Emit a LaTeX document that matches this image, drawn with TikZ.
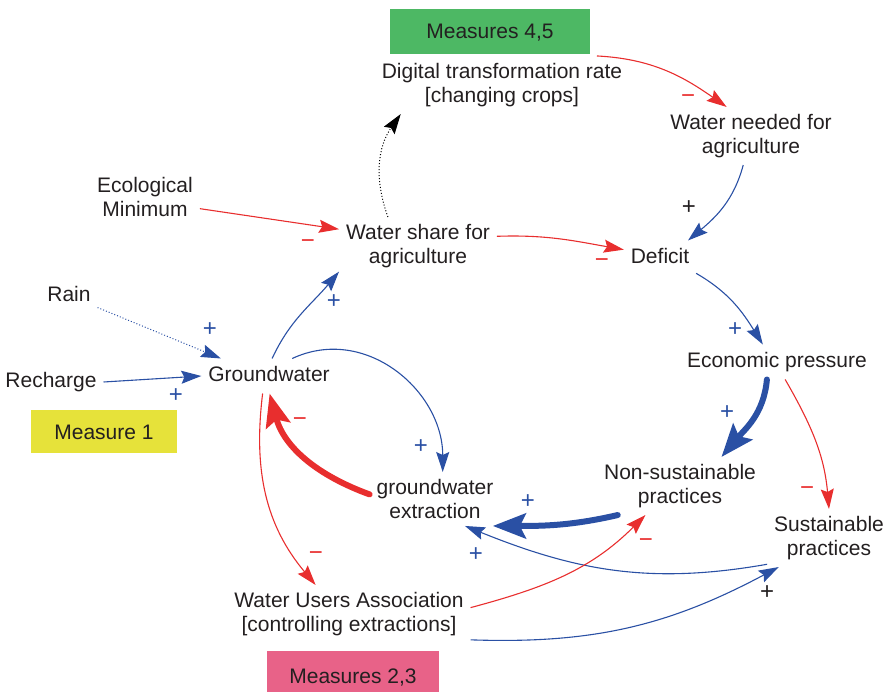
\documentclass[tikz,border=0pt]{standalone}
\usepackage{fontspec}
\setmainfont{Liberation Sans}
\usetikzlibrary{arrows.meta}

\definecolor{lred}{RGB}{232,46,46}
\definecolor{lblue}{RGB}{42,80,164}
\definecolor{txt}{RGB}{35,31,32}
\definecolor{mgreen}{RGB}{77,184,100}
\definecolor{myellow}{RGB}{230,226,58}
\definecolor{mpink}{RGB}{232,98,136}

\begin{document}
\begin{tikzpicture}[x=1pt, y=-1pt,
        var/.style={font=\fontsize{21}{24.5}\selectfont, text=txt, align=center, inner sep=3pt, outer sep=4pt},
        one/.style={var, text height=16pt, text depth=5pt},
        measure/.style={font=\fontsize{21}{24.5}\selectfont, text=txt, inner sep=0pt, text height=15pt, text depth=0pt},
        sgnred/.style={font=\fontsize{24}{24}\selectfont, text=lred, inner sep=0pt},
        sgnblue/.style={font=\fontsize{24}{24}\selectfont, text=lblue, inner sep=0pt},
        sgnblack/.style={font=\fontsize{24}{24}\selectfont, text=txt, inner sep=0pt},
        redlink/.style={draw=lred, line width=1.1pt, -{Stealth[length=20pt,width=13pt,inset=3pt]}},
        bluelink/.style={draw=lblue, line width=1.1pt, -{Stealth[length=20pt,width=13pt,inset=3pt]}},
        thickred/.style={draw=lred, line width=6pt, line cap=round, -{Stealth[length=33pt,width=25pt,inset=6pt]}},
        thickblue/.style={draw=lblue, line width=6pt, line cap=round, -{Stealth[length=33pt,width=25pt,inset=6pt]}},
        dotlink/.style={line width=1pt, dotted, -{Stealth[length=20pt,width=13pt,inset=3pt]}}
    ]
        \useasboundingbox (0,0) rectangle (889,692);
        % measure boxes
        \node[measure, fill=mgreen, minimum width=200pt, minimum height=45pt] (m45) at (490,31.5) {Measures 4,5};
        \node[measure, fill=myellow, minimum width=146pt, minimum height=43pt] (m1) at (104,431.5) {Measure 1};
        \node[measure, fill=mpink, minimum width=172pt, minimum height=49pt] (m23) at (353,675.5) {Measures 2,3};
        % variables
        \node[one] (rain) at (69,296) {Rain};
        \node[one] (rech) at (51,382) {Recharge};
        \node[one] (gw) at (269,376) {Groundwater};
        \node[one] (def) at (660,258) {Deficit};
        \node[one] (econ) at (777,362) {Economic pressure};
        \node[var] (eco) at (145,197) {Ecological\\Minimum};
        \node[var] (ws) at (418,246) {Water share for\\agriculture};
        \node[var] (dig) at (502,85) {Digital transformation rate\\{[changing crops]}};
        \node[var] (need) at (751,136) {Water needed for\\agriculture};
        \node[var] (nsp) at (680,486) {Non-sustainable\\practices};
        \node[var] (ext) at (435,499) {groundwater\\extraction};
        \node[var] (sp) at (829,538) {Sustainable\\practices};
        \node[var] (wua) at (349,614) {Water Users Association\\{[controlling extractions]}};
        % links
        \draw[redlink] (dig.17) to[out=-3, in=145] (need.130);
        \draw[bluelink] (need.255) to[out=-105, in=40] (def.32);
        \draw[redlink] (eco.-12) -- (ws.168);
        \draw[redlink] (ws.7) to[out=2, in=170] (def.167);
        \draw[dotlink] (ws.136) to[out=110, in=-125] (dig.196);
        \draw[bluelink] (def.-23) to[out=-30, in=122] (econ.129);
        \draw[dotlink, draw=lblue] (rain.-22) -- (gw.160);
        \draw[bluelink] (rech.east) -- (gw.west);
        \draw[bluelink] (gw.80) to[out=65, in=230] (ws.198);
        \draw[bluelink] (gw.37) to[out=25, in=90, looseness=1.1] (ext.74);
        \draw[thickred] (ext.176) to[out=160, in=-75] (gw.-88);
        \draw[redlink] (gw.250) to[out=-97, in=130] (wua.139);
        \draw[thickblue] (econ.240) to[out=-95, in=50] (nsp.35);
        \draw[redlink] (econ.-65) to[out=-60, in=95] (sp.north);
        \draw[thickblue] (nsp.205) to[out=193, in=0] (ext.-25);
        \draw[bluelink] (sp.203) to[out=190, in=-22] (ext.-42);
        \draw[redlink] (wua.3) to[out=15, in=225] (nsp.220);
        \draw[bluelink] (wua.-12) to[out=-2, in=208] (sp.210);
        % polarities
        \node[sgnred] (sg1) at (688,99) {−};
        \node[sgnblack] (sg2) at (689,208) {+};
        \node[sgnred] (sg3) at (308,244) {−};
        \node[sgnred] (sg4) at (602,263) {−};
        \node[sgnblue] (sg5) at (334,302) {+};
        \node[sgnblue] (sg6) at (210,330) {+};
        \node[sgnblue] (sg7) at (176,396) {+};
        \node[sgnred] (sg8) at (300,422) {−};
        \node[sgnblue] (sg9) at (421,447) {+};
        \node[sgnred] (sg10) at (316,556) {−};
        \node[sgnblue] (sg11) at (735,330) {+};
        \node[sgnblue] (sg12) at (727,413) {+};
        \node[sgnred] (sg13) at (807,491) {−};
        \node[sgnblue] (sg14) at (528,502) {+};
        \node[sgnred] (sg15) at (646,543) {−};
        \node[sgnblue] (sg16) at (476,555) {+};
        \node[sgnblack] (sg17) at (767,593) {+};
    \end{tikzpicture}
\end{document}
